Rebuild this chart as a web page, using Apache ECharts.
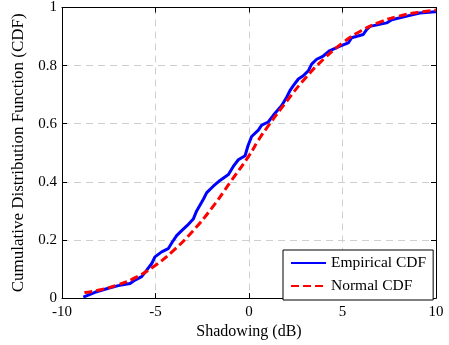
<!DOCTYPE html>
<html>
<head>
<meta charset="utf-8">
<script src="https://cdn.jsdelivr.net/npm/echarts@6/dist/echarts.min.js"></script>
<style>
html,body{margin:0;padding:0;background:#fff;}
#chart{width:449px;height:345px;}
</style>
</head>
<body>
<div id="chart"></div>
<script>
// Empirical CDF
var empiricalX = [-8.86,-8.24,-7.52,-6.99,-6.36,-6.1,-5.74,-5.47,-5.2,-5.03,-4.67,-4.32,-4.1,-3.87,-3.6,-3.3,-2.98,-2.8,-2.44,-2.26,-1.91,-1.55,-1.1,-0.84,-0.57,-0.21,-0.05,0.14,0.5,0.68,1.03,1.3,1.75,2.02,2.19,2.37,2.64,2.9,3.17,3.35,3.62,3.97,4.33,4.87,5.31,5.49,6.11,6.29,6.47,7.36,7.63,8.61,9.14,9.95,10];
var empiricalY = [0.003,0.02,0.034,0.043,0.05,0.062,0.074,0.096,0.119,0.142,0.159,0.17,0.193,0.215,0.232,0.25,0.272,0.30,0.34,0.363,0.385,0.405,0.425,0.453,0.476,0.49,0.525,0.556,0.578,0.595,0.606,0.629,0.663,0.692,0.714,0.731,0.754,0.765,0.782,0.805,0.822,0.833,0.852,0.867,0.878,0.896,0.907,0.924,0.935,0.947,0.958,0.973,0.981,0.985,0.986];
// Normal CDF
var normalX = [-8.8,-8,-7,-6,-5,-4,-3,-2,-1,0,0.5,1,2,3,4,5,6,7,8,9,10];
var normalY = [0.019,0.028,0.046,0.073,0.113,0.166,0.231,0.309,0.399,0.49,0.543,0.59,0.676,0.756,0.823,0.878,0.92,0.95,0.97,0.983,0.991];
var seriesNames = ['Empirical CDF','Normal CDF'];
var xTitle = 'Shadowing (dB)';
var yTitle = 'Cumulative Distribution Function (CDF)';

function pairs(xs, ys){ return xs.map(function(x,i){ return [x, ys[i]]; }); }

var FONT = 'Liberation Serif';
var chart = echarts.init(document.getElementById('chart'), null, {renderer:'canvas'});
var baseX = {
  type:'value', min:-10, max:10, interval:5,
  axisLine:{show:true, onZero:false, lineStyle:{color:'#000', width:1}},
  axisTick:{show:true, inside:true, length:5, lineStyle:{color:'#000'}},
};
var baseY = {
  type:'value', min:0, max:1, interval:0.2,
  axisLine:{show:true, onZero:false, lineStyle:{color:'#000', width:1}},
  axisTick:{show:true, inside:true, length:5, lineStyle:{color:'#000'}},
};
chart.setOption({
  animation:false,
  backgroundColor:'#fff',
  textStyle:{fontFamily:FONT, color:'#000'},
  grid:{left:62, right:13, top:6, bottom:45, show:false},
  xAxis:[
    Object.assign({}, baseX, {
      position:'bottom',
      name:xTitle, nameLocation:'middle', nameGap:22,
      nameTextStyle:{fontFamily:FONT, fontSize:16, color:'#000'},
      axisLabel:{show:true, margin:6, fontFamily:FONT, fontSize:15, color:'#000'},
      splitLine:{show:true, lineStyle:{color:'#cfcfcf', type:[7,5], width:1}}
    }),
    Object.assign({}, baseX, {
      position:'top', axisLabel:{show:false}, splitLine:{show:false}
    })
  ],
  yAxis:[
    Object.assign({}, baseY, {
      position:'left',
      name:yTitle, nameLocation:'middle', nameGap:28,
      nameTextStyle:{fontFamily:FONT, fontSize:17, color:'#000'},
      axisLabel:{show:true, margin:5, fontFamily:FONT, fontSize:15, color:'#000'},
      splitLine:{show:true, lineStyle:{color:'#cfcfcf', type:[7,5], width:1}}
    }),
    Object.assign({}, baseY, {
      position:'right', axisLabel:{show:false}, splitLine:{show:false}
    })
  ],
  legend:{
    show:true, orient:'vertical', left:283, top:250,
    padding:[5,7,6,7], itemGap:7, itemWidth:35, itemHeight:14,
    backgroundColor:'#fff', borderColor:'#000', borderWidth:1, borderRadius:0,
    itemStyle:{opacity:0},
    textStyle:{fontFamily:FONT, fontSize:15.5, color:'#000'},
    data:seriesNames
  },
  series:[
    {
      name:seriesNames[0], type:'line', xAxisIndex:0, yAxisIndex:0,
      data:pairs(empiricalX, empiricalY),
      showSymbol:false, symbol:'none', smooth:false,
      lineStyle:{color:'#0000ff', width:3},
      itemStyle:{color:'#0000ff'}, z:3
    },
    {
      name:seriesNames[1], type:'line', xAxisIndex:0, yAxisIndex:0,
      data:pairs(normalX, normalY),
      showSymbol:false, symbol:'none', smooth:true,
      lineStyle:{color:'#ff0000', width:3, type:[8,4]},
      itemStyle:{color:'#ff0000'}, z:4
    }
  ]
});
</script>
</body>
</html>
